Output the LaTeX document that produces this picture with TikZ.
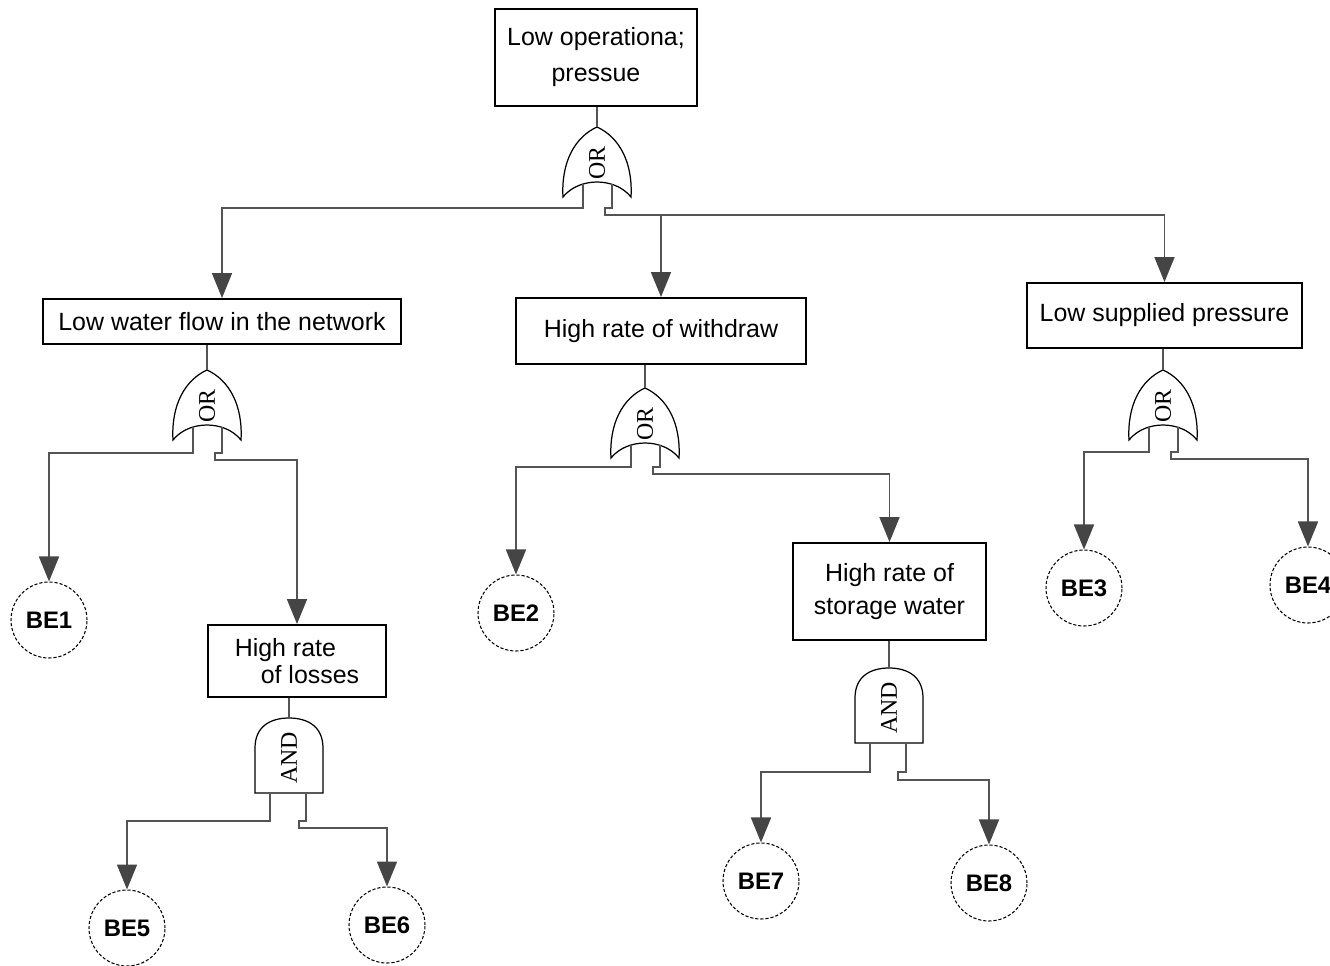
\documentclass[tikz,border=0pt]{standalone}
\usepackage{fontspec}
\setmainfont{Liberation Sans}
\newfontfamily\gatefont{Liberation Serif}
\usetikzlibrary{arrows.meta}
\definecolor{linegray}{rgb}{0.33,0.33,0.33}
\definecolor{tipgray}{rgb}{0.27,0.27,0.27}
\tikzset{
	event/.style={draw, line width=1.1pt, fill=white, align=center, inner sep=2pt, font=\fontsize{14.2}{20.5}\selectfont},
	basic/.style={draw, circle, line width=0.6pt, dash pattern=on 1.8pt off 1.1pt, minimum size=1.52cm, inner sep=0pt, font=\fontsize{13.6}{16}\selectfont\bfseries},
	conn/.style={draw=linegray, line width=1pt},
	arr/.style={conn, -{Triangle[length=0.5cm, width=0.4cm, color=tipgray]}},
	gate/.style={draw, line width=0.7pt, fill=white},
	gatetext/.style={rotate=90, inner sep=0pt, font=\gatefont\fontsize{13.6}{16}\selectfont},
	orgate/.pic={
		\draw[gate] (0,0) .. controls (-22,10) and (-36,35) .. (-34,70) .. controls (-18,50) and (18,50) .. (34,70) .. controls (36,35) and (22,10) .. (0,0) -- cycle;
		\node[gatetext] at (0,36) {OR};
		\coordinate (-top) at (0,0);
		\coordinate (-l) at (-14,57);
		\coordinate (-r) at (15,57);
	},
	andgate/.pic={
		\draw[gate] (-34,75) -- (-34,30) .. controls (-34,8) and (-18,0) .. (0,0) .. controls (18,0) and (34,8) .. (34,30) -- (34,75) -- cycle;
		\node[gatetext] at (0,40) {AND};
		\coordinate (-top) at (0,0);
		\coordinate (-l) at (-19,75);
		\coordinate (-r) at (17,75);
	},
}

\begin{document}
\begin{tikzpicture}[x=0.02cm, y=-0.02cm]
	\useasboundingbox (0,0) rectangle (1330,965);

	% events
	\node[event, minimum width=4.04cm, minimum height=1.94cm] (top) at (596,57.5) {Low operationa;\\pressue};
	\node[event, minimum width=7.16cm, minimum height=0.9cm] (lowflow) at (222,321.5) {Low water flow in the network};
	\node[event, minimum width=5.8cm, minimum height=1.32cm] (withdraw) at (661,331) {High rate of withdraw};
	\node[event, minimum width=5.5cm, minimum height=1.3cm] (supply) at (1164.5,315.5) {Low supplied pressure};
	\node[event, minimum width=3.56cm, minimum height=1.44cm, align=left, font=\fontsize{14.2}{15.4}\selectfont] (losses) at (297,661) {High rate\\\hspace*{0.52cm}of losses};
	\node[event, minimum width=3.86cm, minimum height=1.94cm, font=\fontsize{14.2}{18.8}\selectfont] (storage) at (889.5,591.5) {High rate of\\storage water};

	% gates
	\pic (g0) at (597,127) {orgate};
	\pic (g1) at (207,370) {orgate};
	\pic (g2) at (289,718) {andgate};
	\pic (g3) at (645,388) {orgate};
	\pic (g4) at (889,668) {andgate};
	\pic (g5) at (1163,370) {orgate};

	% basic events
	\node[basic] (be1) at (49,620) {BE1};
	\node[basic] (be2) at (516,613) {BE2};
	\node[basic] (be3) at (1084,588) {BE3};
	\node[basic] (be4) at (1308,585) {BE4};
	\node[basic] (be5) at (127,928) {BE5};
	\node[basic] (be6) at (387,925) {BE6};
	\node[basic] (be7) at (761,881) {BE7};
	\node[basic] (be8) at (989,883) {BE8};

	% connectors
	\draw[conn] (top.south -| g0-top) -- (g0-top);
	\draw[arr] (g0-l) -- ++(0,24) -| (lowflow.north);
	\draw[arr] (g0-r) -- ++(0,24) -- ++(-7,0) -- ++(0,7) coordinate (t0) -| (supply.north);
	\draw[arr] (t0 -| withdraw.north) -- (withdraw.north);

	\draw[conn] (lowflow.south -| g1-top) -- (g1-top);
	\draw[arr] (g1-l) -- ++(0,26) -| (be1.north);
	\draw[arr] (g1-r) -- ++(0,26) -- ++(-7,0) -- ++(0,7) -| (losses.north);

	\draw[conn] (losses.south -| g2-top) -- (g2-top);
	\draw[arr] (g2-l) -- ++(0,28) -| (be5.north);
	\draw[arr] (g2-r) -- ++(0,28) -- ++(-7,0) -- ++(0,7) -| (be6.north);

	\draw[conn] (withdraw.south -| g3-top) -- (g3-top);
	\draw[arr] (g3-l) -- ++(0,22) -| (be2.north);
	\draw[arr] (g3-r) -- ++(0,22) -- ++(-7,0) -- ++(0,7) -| (storage.north);

	\draw[conn] (storage.south -| g4-top) -- (g4-top);
	\draw[arr] (g4-l) -- ++(0,29) -| (be7.north);
	\draw[arr] (g4-r) -- ++(0,29) -- ++(-8,0) -- ++(0,8) -| (be8.north);

	\draw[conn] (supply.south -| g5-top) -- (g5-top);
	\draw[arr] (g5-l) -- ++(0,25) -| (be3.north);
	\draw[arr] (g5-r) -- ++(0,25) -- ++(-7,0) -- ++(0,7) -| (be4.north);
\end{tikzpicture}
\end{document}
